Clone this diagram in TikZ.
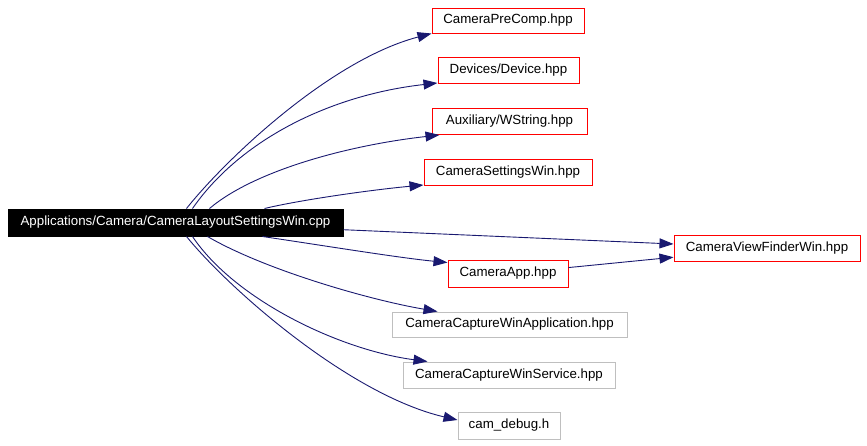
\documentclass[tikz,border=0pt]{standalone}
\usepackage{fontspec}
\setmainfont{Liberation Sans}
\usetikzlibrary{arrows.meta}
\definecolor{edgeblue}{HTML}{191970}
\definecolor{boxred}{HTML}{FF0000}
\definecolor{boxgrey}{HTML}{BFBFBF}
\tikzset{
  box/.style={draw, line width=1pt, inner sep=0pt, minimum height=26pt, font=\fontsize{13.3}{15}\selectfont, text=black},
  redbox/.style={box, draw=boxred},
  greybox/.style={box, draw=boxgrey},
  mainbox/.style={box, draw=black, fill=black, text=white},
  dep/.style={draw=edgeblue, line width=0.9pt, -{Triangle[length=14pt,width=10pt]}, color=edgeblue}
}
\begin{document}
\begin{tikzpicture}[x=1pt,y=-1pt]
\useasboundingbox (0,0) rectangle (867,445);
\node[mainbox, minimum width=335pt, minimum height=27pt] (main) at (175.5,222.5) {Applications/Camera/CameraLayoutSettingsWin.cpp};
\node[redbox, minimum width=152pt, minimum height=25pt] (precomp) at (508,20.5) {CameraPreComp.hpp};
\node[redbox, minimum width=141pt] (device) at (508.5,70.5) {Devices/Device.hpp};
\node[redbox, minimum width=155pt] (wstring) at (509.5,121.5) {Auxiliary/WString.hpp};
\node[redbox, minimum width=168pt] (settings) at (508,172) {CameraSettingsWin.hpp};
\node[redbox, minimum width=186pt] (vf) at (767,248) {CameraViewFinderWin.hpp};
\node[redbox, minimum width=120pt, minimum height=27pt] (app) at (508,273.5) {CameraApp.hpp};
\node[greybox, minimum width=235pt, minimum height=25pt] (capapp) at (509.5,324.5) {CameraCaptureWinApplication.hpp};
\node[greybox, minimum width=212pt] (capsvc) at (509,375) {CameraCaptureWinService.hpp};
\node[greybox, minimum width=102pt, minimum height=27pt] (camdbg) at (509,425.5) {cam\_debug.h};

\draw[dep] ([xshift=179pt]main.north west) .. controls (225,160) and (330,60) .. (precomp.south west);
\draw[dep] ([xshift=185pt]main.north west) .. controls (240,140) and (330,95) .. ([yshift=1pt]device.south west);
\draw[dep] ([xshift=202pt]main.north west) .. controls (255,170) and (350,145) .. ([xshift=8pt]wstring.south west);
\draw[dep] ([xshift=257pt]main.north west) .. controls (300,200) and (370,190) .. ([yshift=0.5pt]settings.south west);
\draw[dep] (main) -- (vf);
\draw[dep] ([xshift=255pt]main.south west) .. controls (320,245) and (400,258) .. ([yshift=-3pt]app.north west);
\draw[dep] (app) -- (vf);
\draw[dep] ([xshift=200pt]main.south west) .. controls (265,270) and (370,300) .. ([xshift=46pt]capapp.north west);
\draw[dep] ([xshift=185pt]main.south west) .. controls (235,300) and (340,350) .. ([xshift=25pt]capsvc.north west);
\draw[dep] ([xshift=179pt]main.south west) .. controls (230,290) and (350,395) .. ([yshift=5.5pt]camdbg.west);
\end{tikzpicture}
\end{document}
